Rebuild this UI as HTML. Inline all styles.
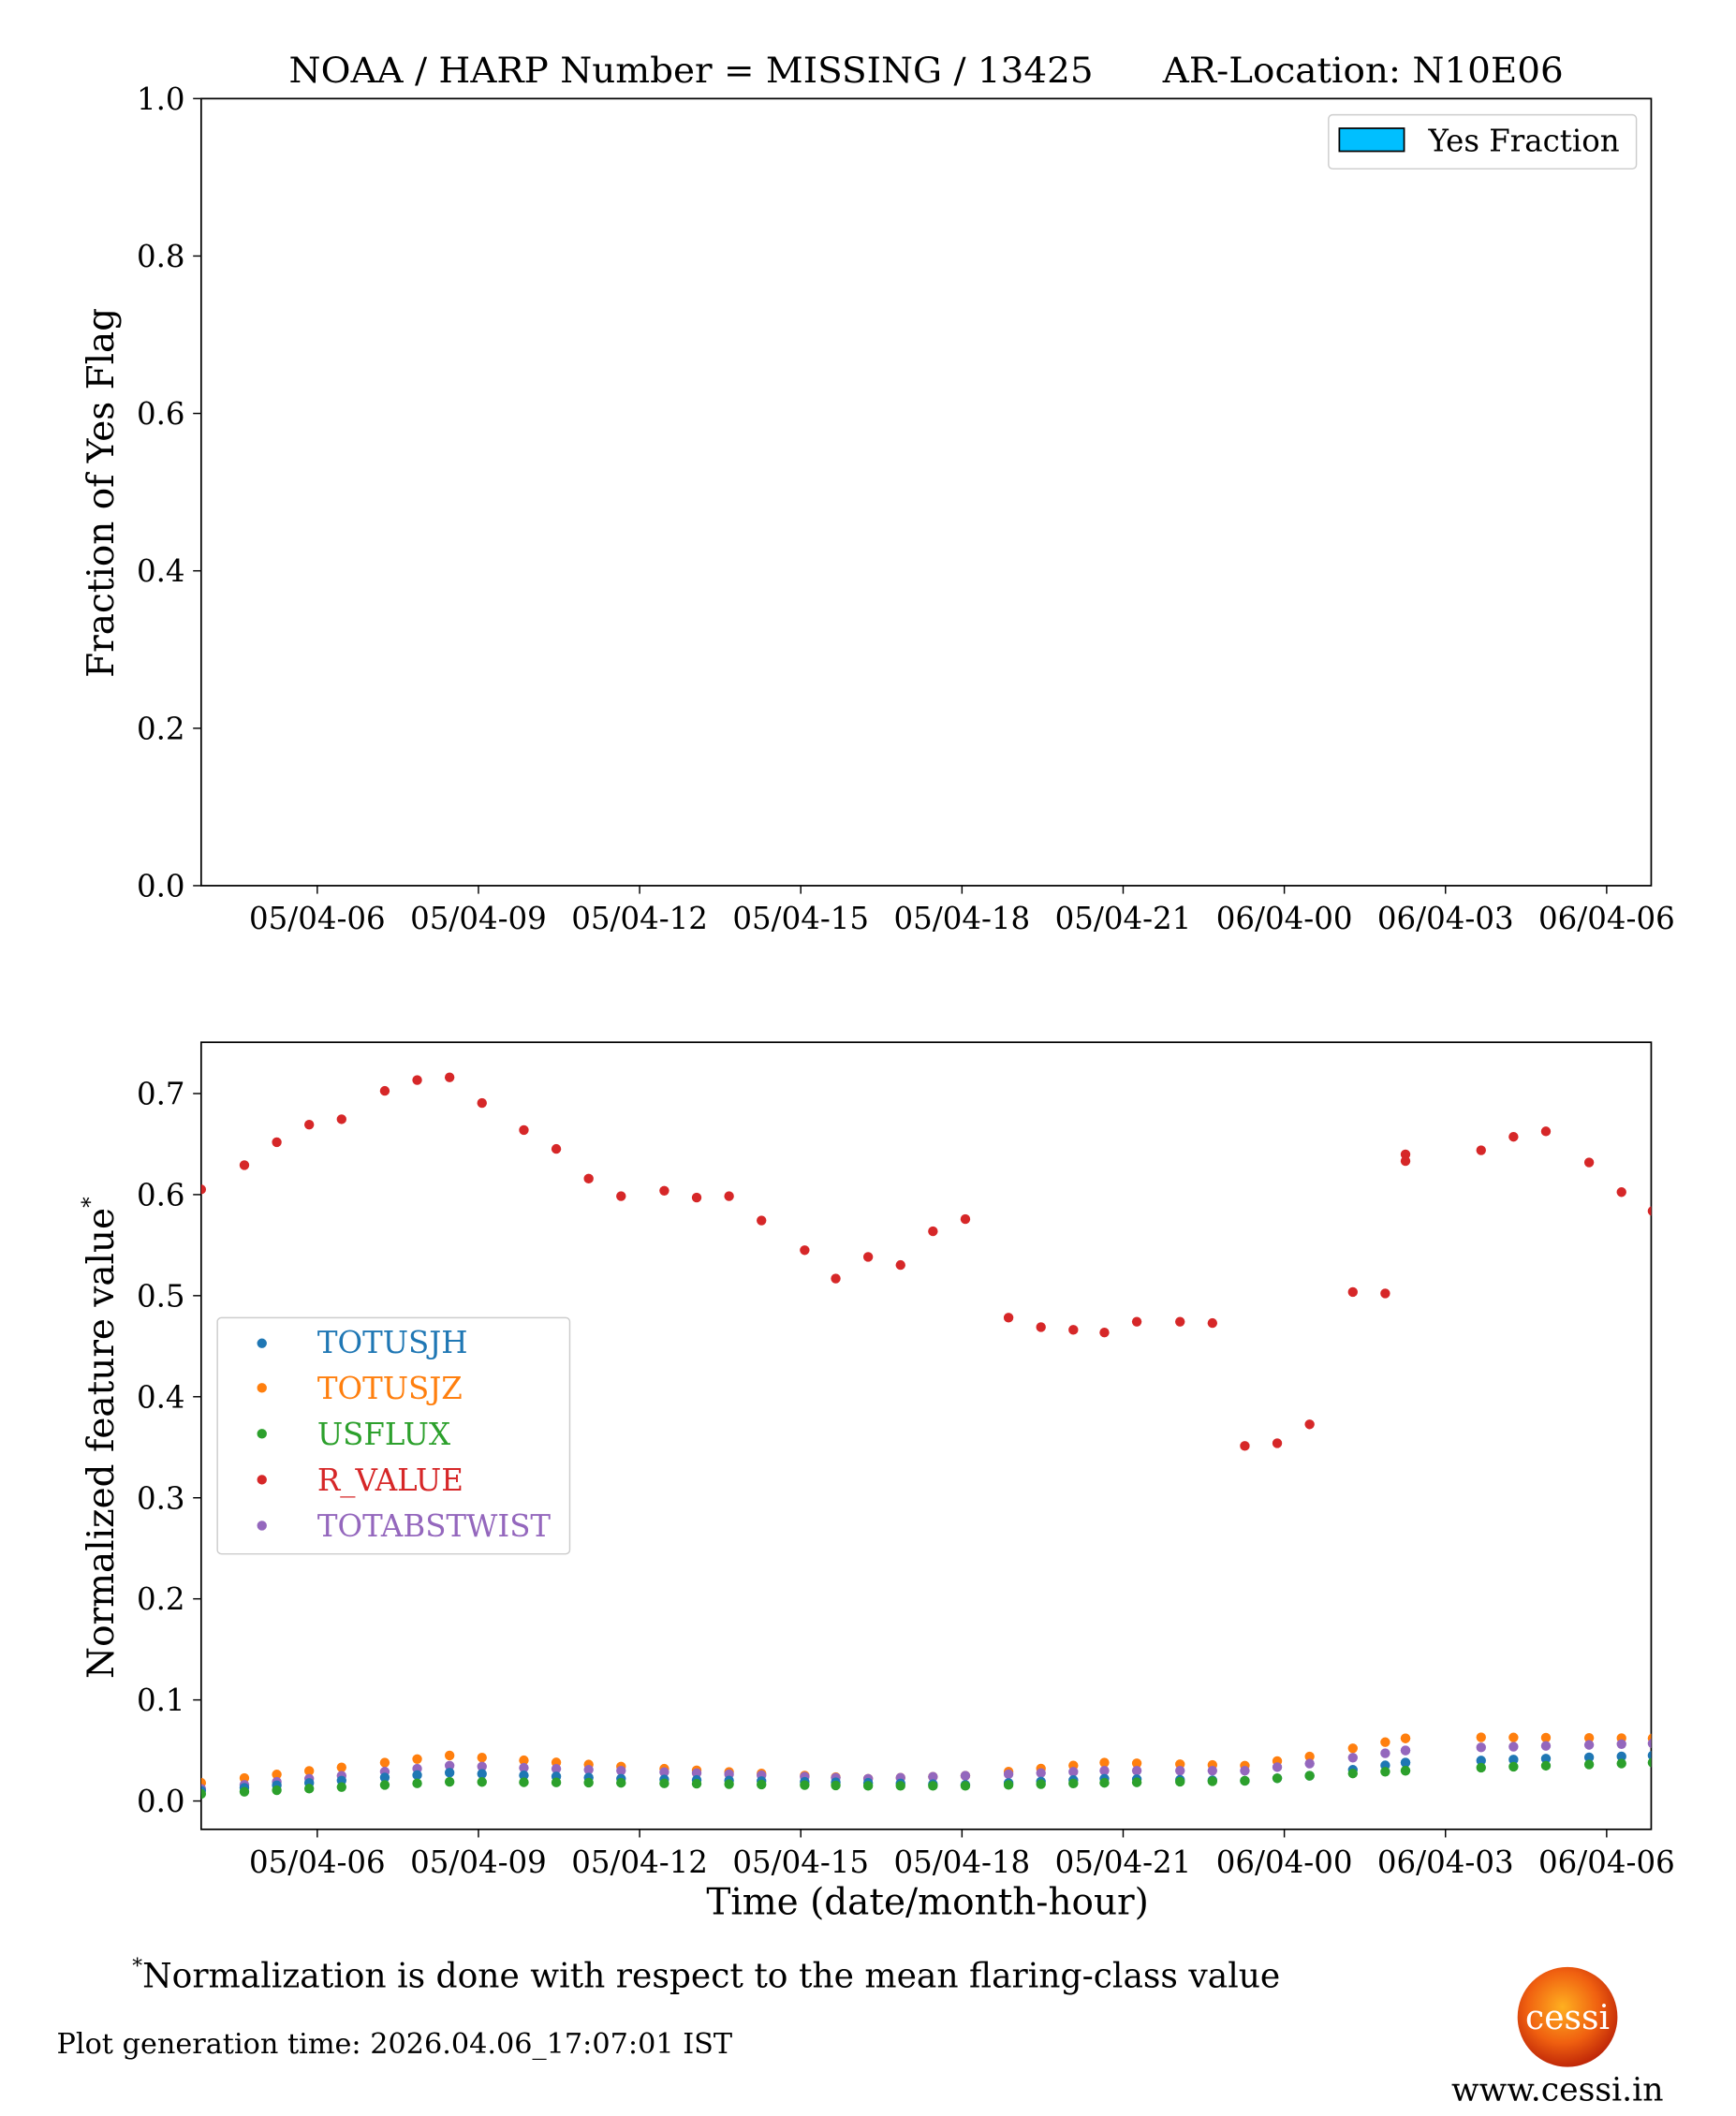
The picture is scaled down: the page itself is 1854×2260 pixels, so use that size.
<!DOCTYPE html>
<html><head><meta charset="utf-8"><style>
html,body{margin:0;padding:0;background:#fff}
svg{display:block}
text{font-family:"DejaVu Serif","Liberation Serif",serif}
</style></head><body>
<svg id="s" width="1854" height="2260" viewBox="0 0 1285.8 1567.3" xmlns="http://www.w3.org/2000/svg">
<defs>
<radialGradient id="sun" cx="45%" cy="40%" r="60%">
<stop offset="0" stop-color="#ffb020"/><stop offset="0.6" stop-color="#f06010"/><stop offset="1" stop-color="#c02808"/>
</radialGradient>
<clipPath id="cp"><rect x="149" y="772" width="1074" height="583"/></clipPath>
</defs>
<text x="214" y="61" font-size="26" textLength="944" lengthAdjust="spacingAndGlyphs" xml:space="preserve">NOAA / HARP Number = MISSING / 13425      AR-Location: N10E06</text>
<rect x="149" y="73" width="1074" height="583" fill="none" stroke="#000" stroke-width="1.2"/>
<g id="ty1" font-size="22.5" text-anchor="end"></g>
<g id="tx1" font-size="22.5" text-anchor="middle"></g>
<text transform="translate(84,365) rotate(-90)" font-size="27" text-anchor="middle">Fraction of Yes Flag</text>
<rect x="984" y="85" width="228" height="40" rx="3" fill="#fff" stroke="#ccc"/>
<rect x="992" y="95" width="48" height="17" fill="#00bfff" stroke="#000" stroke-width="1.2"/>
<text x="1058" y="112" font-size="22.5">Yes Fraction</text>

<rect x="149" y="772" width="1074" height="583" fill="none" stroke="#000" stroke-width="1.2"/>
<g id="ty2" font-size="22.5" text-anchor="end"></g>
<g id="tx2" font-size="22.5" text-anchor="middle"></g>
<g id="dots" clip-path="url(#cp)"></g>
<text transform="translate(84,1065) rotate(-90)" font-size="27" text-anchor="middle">Normalized feature value<tspan font-size="16" dy="-12">*</tspan></text>
<text x="687" y="1418" font-size="27" text-anchor="middle">Time (date/month-hour)</text>
<rect x="161" y="976" width="261" height="175" rx="3" fill="#fff" stroke="#ccc"/>
<circle cx="194" cy="995" r="3.6" fill="#1f77b4"/><text x="235" y="1002" font-size="22.5" fill="#1f77b4">TOTUSJH</text>
<circle cx="194" cy="1028" r="3.6" fill="#ff7f0e"/><text x="235" y="1036" font-size="22.5" fill="#ff7f0e">TOTUSJZ</text>
<circle cx="194" cy="1062" r="3.6" fill="#2ca02c"/><text x="235" y="1070" font-size="22.5" fill="#2ca02c">USFLUX</text>
<circle cx="194" cy="1096" r="3.6" fill="#d62728"/><text x="235" y="1104" font-size="22.5" fill="#d62728">R_VALUE</text>
<circle cx="194" cy="1130" r="3.6" fill="#9467bd"/><text x="235" y="1138" font-size="22.5" fill="#9467bd">TOTABSTWIST</text>

<text x="98" y="1472" font-size="25"><tspan font-size="15" dy="-11">*</tspan><tspan dy="11">Normalization is done with respect to the mean flaring-class value</tspan></text>
<text x="42" y="1521" font-size="21">Plot generation time: 2026.04.06_17:07:01 IST</text>
<circle cx="1161" cy="1494" r="37" fill="url(#sun)"/>
<text x="1161" y="1503" font-size="25" fill="#fff" text-anchor="middle">cessi</text>
<text x="1075" y="1556" font-size="24">www.cessi.in</text>
</svg>
<script>
var NS="http://www.w3.org/2000/svg";
function el(p,t,a,txt){var e=document.createElementNS(NS,t);for(var k in a)e.setAttribute(k,a[k]);if(txt)e.textContent=txt;document.getElementById(p).appendChild(e);}
var xl=["05/04-06","05/04-09","05/04-12","05/04-15","05/04-18","05/04-21","06/04-00","06/04-03","06/04-06"];
for(var i=0;i<9;i++){var x=235+i*(1190-235)/8;
 [["tx1",656,688],["tx2",1355,1387]].forEach(function(q){el(q[0],"line",{x1:x,x2:x,y1:q[1],y2:q[1]+6,stroke:"#000"});el(q[0],"text",{x:x,y:q[2]},xl[i]);});}
for(var i=0;i<=5;i++){var y=656-i*583/5;el("ty1","line",{x1:143,x2:149,y1:y,y2:y,stroke:"#000"});el("ty1","text",{x:137,y:y+8},(i*0.2).toFixed(1));}
for(var i=0;i<=7;i++){var y=1334-i*74.86;el("ty2","line",{x1:143,x2:149,y1:y,y2:y,stroke:"#000"});el("ty2","text",{x:137,y:y+8},(i*0.1).toFixed(1));}
var R=[[149,881],[181,863],[205,846],[229,833],[253,829],[285,808],[309,800],[333,798],[357,817],[388,837],[412,851],[436,873],[460,886],[492,882],[516,887],[540,886],[564,904],[596,926],[619,947],[643,931],[667,937],[691,912],[715,903],[747,976],[771,983],[795,985],[818,987],[842,979],[874,979],[898,980],[922,1071],[946,1069],[970,1055],[1002,957],[1026,958],[1041,855],[1041,860],[1097,852],[1121,842],[1145,838],[1177,861],[1201,883],[1224,897]];
function interp(k,x){for(var i=0;i<k.length-1;i++){if(x<=k[i+1][0]){var t=(x-k[i][0])/(k[i+1][0]-k[i][0]);return k[i][1]+t*(k[i+1][1]-k[i][1]);}}return k[k.length-1][1];}
var S=[
["#ff7f0e",[[149,.018],[333,.045],[460,.034],[643,.022],[715,.025],[818,.038],[922,.035],[970,.044],[1041,.062],[1097,.063],[1224,.062]]],
["#9467bd",[[149,.012],[333,.035],[460,.03],[643,.022],[715,.025],[818,.03],[922,.03],[970,.037],[1041,.05],[1097,.053],[1224,.057]]],
["#1f77b4",[[149,.01],[333,.028],[460,.022],[643,.018],[715,.016],[818,.022],[922,.02],[970,.025],[1041,.038],[1097,.04],[1224,.045]]],
["#2ca02c",[[149,.007],[333,.019],[460,.018],[643,.015],[715,.015],[818,.018],[922,.02],[970,.025],[1041,.03],[1097,.033],[1224,.038]]]];
S.forEach(function(s){R.forEach(function(p){var v=interp(s[1],p[0]);el("dots","circle",{cx:p[0],cy:1334-v*748.6,r:3.6,fill:s[0]});});});
R.forEach(function(p){el("dots","circle",{cx:p[0],cy:p[1],r:3.6,fill:"#d62728"});});
</script>
</body></html>
